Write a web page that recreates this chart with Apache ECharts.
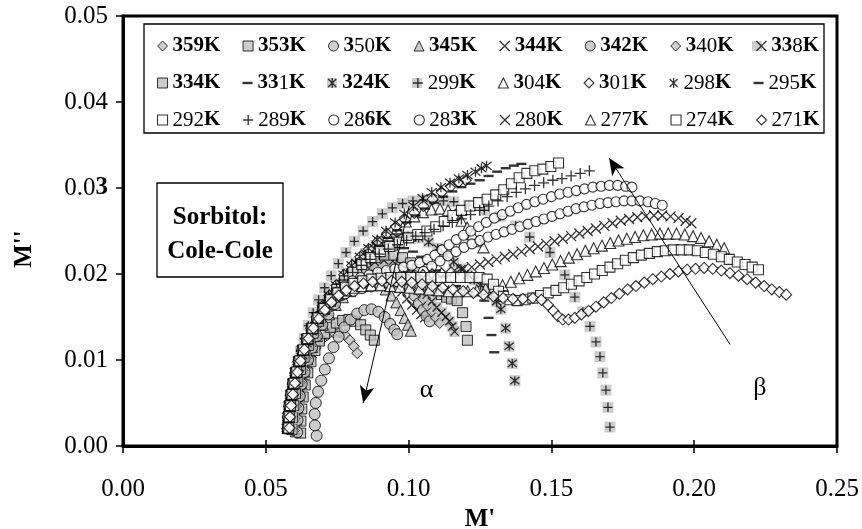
<!DOCTYPE html>
<html><head><meta charset="utf-8">
<script src="https://cdn.jsdelivr.net/npm/echarts@6/dist/echarts.min.js"></script>
<style>html,body{margin:0;padding:0;background:#fff}#c{width:862px;height:529px}</style>
</head><body><div id="c"></div>
<script>
const FONT = '"Liberation Serif","Times New Roman",serif';
const xTickLabels = ['0.00','0.05','0.10','0.15','0.20','0.25'];
const yTickLabels = ['0.00','0.01','0.02','0.0{b|3}','0.04','0.05'];
const temps = ['359K','353K','350K','345K','344K','342K','340K','338K','334K','331K','324K','299K','304K','301K','298K','295K','292K','289K','286K','283K','280K','277K','274K','271K'];
const legendText = {
 '359K':'{b|359K}','353K':'{b|353K}','350K':'{b|3}{r|50}{b|K}','345K':'{b|345K}','344K':'{b|344K}','342K':'{b|342K}','340K':'{b|3}{r|40}{b|K}','338K':'{b|33}{r|8}{b|K}',
 '334K':'{b|334K}','331K':'{b|33}{r|1}{b|K}','324K':'{b|324K}','299K':'{r|299}{b|K}','304K':'{b|3}{r|04}{b|K}','301K':'{b|3}{r|01}{b|K}','298K':'{r|298}{b|K}','295K':'{r|295}{b|K}',
 '292K':'{r|292}{b|K}','289K':'{r|289}{b|K}','286K':'{r|28}{b|6K}','283K':'{r|28}{b|3K}','280K':'{r|280}{b|K}','277K':'{r|277}{b|K}','274K':'{r|274}{b|K}','271K':'{r|271}{b|K}'
};

const s359 = [[0.0610,0.0017],[0.0612,0.0030],[0.0616,0.0045],[0.0623,0.0060],[0.0632,0.0075],[0.0644,0.0090],[0.0658,0.0103],[0.0675,0.0114],[0.0694,0.0123],[0.0715,0.0129],[0.0737,0.0132],[0.0758,0.0132],[0.0777,0.0129],[0.0794,0.0123],[0.0808,0.0116],[0.0820,0.0108]];
const s353 = [[0.0622,0.0015],[0.0623,0.0029],[0.0626,0.0043],[0.0631,0.0057],[0.0638,0.0071],[0.0647,0.0085],[0.0658,0.0098],[0.0672,0.0111],[0.0688,0.0122],[0.0706,0.0131],[0.0726,0.0138],[0.0747,0.0143],[0.0769,0.0146],[0.0791,0.0147],[0.0812,0.0145],[0.0832,0.0141],[0.0850,0.0135],[0.0866,0.0129],[0.0880,0.0123]];
const s350 = [[0.0678,0.0012],[0.0672,0.0024],[0.0671,0.0037],[0.0675,0.0050],[0.0683,0.0063],[0.0694,0.0076],[0.0707,0.0089],[0.0721,0.0102],[0.0737,0.0115],[0.0755,0.0127],[0.0775,0.0138],[0.0797,0.0147],[0.0820,0.0154],[0.0845,0.0158],[0.0870,0.0159],[0.0894,0.0156],[0.0916,0.0150],[0.0935,0.0142],[0.0950,0.0135],[0.0960,0.0130]];
const s345 = [[0.0605,0.0017],[0.0607,0.0031],[0.0611,0.0045],[0.0616,0.0059],[0.0624,0.0073],[0.0634,0.0087],[0.0646,0.0101],[0.0662,0.0115],[0.0680,0.0128],[0.0700,0.0141],[0.0722,0.0153],[0.0745,0.0164],[0.0770,0.0173],[0.0795,0.0180],[0.0820,0.0185],[0.0846,0.0188],[0.0872,0.0189],[0.0897,0.0187],[0.0920,0.0182],[0.0940,0.0175],[0.0957,0.0167],[0.0972,0.0158],[0.0986,0.0149],[0.0998,0.0141],[0.1008,0.0134]];
const s344 = [[0.0602,0.0018],[0.0604,0.0032],[0.0608,0.0046],[0.0614,0.0060],[0.0622,0.0074],[0.0632,0.0088],[0.0645,0.0102],[0.0660,0.0116],[0.0678,0.0130],[0.0698,0.0143],[0.0720,0.0155],[0.0744,0.0166],[0.0770,0.0176],[0.0797,0.0184],[0.0825,0.0191],[0.0853,0.0195],[0.0881,0.0197],[0.0908,0.0196],[0.0933,0.0192],[0.0956,0.0186],[0.0976,0.0179],[0.0994,0.0171],[0.1011,0.0164],[0.1028,0.0158],[0.1043,0.0153],[0.1056,0.0149]];
const s342 = [[0.0610,0.0016],[0.0611,0.0030],[0.0614,0.0044],[0.0619,0.0058],[0.0626,0.0072],[0.0636,0.0086],[0.0648,0.0100],[0.0662,0.0114],[0.0679,0.0128],[0.0698,0.0141],[0.0719,0.0153],[0.0742,0.0165],[0.0767,0.0176],[0.0794,0.0185],[0.0822,0.0193],[0.0851,0.0199],[0.0880,0.0203],[0.0909,0.0205],[0.0937,0.0204],[0.0963,0.0200],[0.0986,0.0193],[0.1005,0.0184],[0.1021,0.0175],[0.1036,0.0166],[0.1050,0.0158],[0.1063,0.0151],[0.1074,0.0145]];
const s340 = [[0.0598,0.0018],[0.0600,0.0032],[0.0604,0.0046],[0.0610,0.0060],[0.0618,0.0074],[0.0628,0.0088],[0.0640,0.0102],[0.0655,0.0116],[0.0672,0.0130],[0.0691,0.0144],[0.0713,0.0157],[0.0737,0.0169],[0.0763,0.0180],[0.0791,0.0190],[0.0820,0.0198],[0.0850,0.0204],[0.0880,0.0208],[0.0910,0.0210],[0.0940,0.0209],[0.0968,0.0205],[0.0993,0.0198],[0.1015,0.0189],[0.1034,0.0180],[0.1051,0.0171],[0.1067,0.0163],[0.1082,0.0156],[0.1096,0.0149],[0.1109,0.0143]];
const s338 = [[0.0595,0.0019],[0.0597,0.0033],[0.0601,0.0047],[0.0607,0.0061],[0.0615,0.0075],[0.0625,0.0089],[0.0637,0.0103],[0.0652,0.0117],[0.0669,0.0131],[0.0688,0.0145],[0.0710,0.0158],[0.0734,0.0171],[0.0760,0.0183],[0.0788,0.0194],[0.0818,0.0203],[0.0850,0.0210],[0.0882,0.0214],[0.0914,0.0216],[0.0945,0.0215],[0.0974,0.0211],[0.1000,0.0204],[0.1023,0.0195],[0.1044,0.0185],[0.1063,0.0176],[0.1081,0.0168],[0.1098,0.0161],[0.1115,0.0155],[0.1130,0.0150],[0.1143,0.0145],[0.1153,0.0139],[0.1161,0.0133]];
const s334 = [[0.0592,0.0019],[0.0594,0.0033],[0.0598,0.0047],[0.0604,0.0061],[0.0612,0.0075],[0.0622,0.0089],[0.0634,0.0103],[0.0649,0.0117],[0.0666,0.0131],[0.0685,0.0145],[0.0707,0.0159],[0.0731,0.0172],[0.0758,0.0184],[0.0787,0.0196],[0.0818,0.0206],[0.0850,0.0214],[0.0883,0.0219],[0.0916,0.0222],[0.0948,0.0222],[0.0979,0.0219],[0.1007,0.0213],[0.1032,0.0205],[0.1055,0.0196],[0.1076,0.0188],[0.1096,0.0181],[0.1115,0.0176],[0.1133,0.0173],[0.1150,0.0171],[0.1170,0.0169],[0.1189,0.0155],[0.1201,0.0139],[0.1206,0.0123]];
const s331 = [[0.0590,0.0020],[0.0592,0.0034],[0.0596,0.0048],[0.0602,0.0062],[0.0610,0.0076],[0.0620,0.0090],[0.0632,0.0104],[0.0647,0.0118],[0.0664,0.0132],[0.0683,0.0146],[0.0705,0.0160],[0.0729,0.0173],[0.0756,0.0186],[0.0785,0.0198],[0.0816,0.0209],[0.0849,0.0218],[0.0883,0.0225],[0.0917,0.0229],[0.0951,0.0231],[0.0984,0.0230],[0.1015,0.0226],[0.1044,0.0220],[0.1071,0.0212],[0.1096,0.0204],[0.1120,0.0197],[0.1143,0.0191],[0.1166,0.0186],[0.1189,0.0182],[0.1212,0.0179],[0.1234,0.0176],[0.1265,0.0169],[0.1280,0.0149],[0.1290,0.0129],[0.1300,0.0109]];
const s324 = [[0.0588,0.0021],[0.0590,0.0035],[0.0594,0.0049],[0.0600,0.0063],[0.0608,0.0077],[0.0618,0.0091],[0.0630,0.0105],[0.0645,0.0119],[0.0662,0.0133],[0.0681,0.0147],[0.0703,0.0161],[0.0727,0.0175],[0.0754,0.0188],[0.0783,0.0201],[0.0815,0.0213],[0.0849,0.0224],[0.0885,0.0233],[0.0922,0.0239],[0.0960,0.0243],[0.0998,0.0244],[0.1035,0.0242],[0.1070,0.0237],[0.1102,0.0230],[0.1131,0.0222],[0.1158,0.0214],[0.1183,0.0206],[0.1207,0.0199],[0.1230,0.0193],[0.1252,0.0187],[0.1272,0.0182],[0.1291,0.0176],[0.1308,0.0168],[0.1323,0.0159],[0.1340,0.0137],[0.1352,0.0116],[0.1363,0.0096],[0.1372,0.0076]];
const s299 = [[0.0585,0.0021],[0.0586,0.0035],[0.0589,0.0050],[0.0594,0.0065],[0.0601,0.0080],[0.0610,0.0095],[0.0621,0.0110],[0.0634,0.0125],[0.0649,0.0140],[0.0666,0.0155],[0.0685,0.0170],[0.0706,0.0184],[0.0729,0.0198],[0.0754,0.0212],[0.0781,0.0225],[0.0810,0.0238],[0.0841,0.0250],[0.0874,0.0261],[0.0908,0.0270],[0.0943,0.0277],[0.0979,0.0282],[0.1015,0.0285],[0.1051,0.0286],[0.1087,0.0286],[0.1122,0.0285],[0.1158,0.0284],[0.1210,0.0280],[0.1265,0.0274],[0.1320,0.0267],[0.1375,0.0256],[0.1424,0.0243],[0.1495,0.0225],[0.1547,0.0199],[0.1582,0.0173],[0.1610,0.0156],[0.1635,0.0139],[0.1656,0.0121],[0.1670,0.0104],[0.1680,0.0085],[0.1691,0.0065],[0.1698,0.0045],[0.1705,0.0022]];
const s304 = [[0.0577,0.0021],[0.0579,0.0034],[0.0583,0.0047],[0.0589,0.0060],[0.0596,0.0073],[0.0605,0.0086],[0.0616,0.0099],[0.0629,0.0112],[0.0644,0.0125],[0.0661,0.0138],[0.0680,0.0151],[0.0701,0.0163],[0.0724,0.0175],[0.0749,0.0186],[0.0776,0.0197],[0.0805,0.0207],[0.0835,0.0217],[0.0866,0.0227],[0.0897,0.0236],[0.0928,0.0245],[0.0959,0.0253],[0.0990,0.0261],[0.1020,0.0267],[0.1050,0.0272],[0.1080,0.0275],[0.1110,0.0276],[0.1138,0.0274],[0.1163,0.0269],[0.1185,0.0262],[0.1205,0.0254],[0.1224,0.0246],[0.1243,0.0238],[0.1262,0.0231]];
const s301 = [[0.0575,0.0020],[0.0577,0.0033],[0.0581,0.0046],[0.0587,0.0059],[0.0594,0.0072],[0.0603,0.0085],[0.0614,0.0098],[0.0627,0.0111],[0.0642,0.0124],[0.0659,0.0137],[0.0678,0.0150],[0.0699,0.0163],[0.0722,0.0175],[0.0747,0.0187],[0.0774,0.0199],[0.0802,0.0210],[0.0831,0.0220],[0.0861,0.0229],[0.0892,0.0238],[0.0924,0.0247],[0.0956,0.0255],[0.0988,0.0263],[0.1020,0.0271],[0.1052,0.0279],[0.1084,0.0287],[0.1116,0.0295],[0.1148,0.0302],[0.1175,0.0307],[0.1200,0.0309]];
const s298 = [[0.0573,0.0021],[0.0575,0.0034],[0.0579,0.0047],[0.0585,0.0060],[0.0592,0.0073],[0.0601,0.0086],[0.0612,0.0099],[0.0625,0.0112],[0.0640,0.0125],[0.0657,0.0138],[0.0676,0.0151],[0.0697,0.0163],[0.0720,0.0175],[0.0745,0.0187],[0.0772,0.0199],[0.0800,0.0210],[0.0829,0.0220],[0.0859,0.0230],[0.0890,0.0240],[0.0921,0.0250],[0.0953,0.0260],[0.0985,0.0270],[0.1017,0.0279],[0.1049,0.0288],[0.1081,0.0295],[0.1113,0.0301],[0.1145,0.0306],[0.1176,0.0311],[0.1206,0.0315],[0.1234,0.0319],[0.1255,0.0323],[0.1273,0.0326]];
const s295 = [[0.0574,0.0021],[0.0576,0.0034],[0.0580,0.0047],[0.0586,0.0060],[0.0593,0.0073],[0.0602,0.0086],[0.0613,0.0099],[0.0626,0.0112],[0.0641,0.0125],[0.0658,0.0137],[0.0677,0.0149],[0.0698,0.0161],[0.0721,0.0173],[0.0746,0.0184],[0.0773,0.0195],[0.0802,0.0205],[0.0833,0.0215],[0.0865,0.0224],[0.0897,0.0233],[0.0929,0.0242],[0.0961,0.0251],[0.0993,0.0260],[0.1025,0.0268],[0.1057,0.0276],[0.1089,0.0283],[0.1121,0.0290],[0.1153,0.0296],[0.1185,0.0301],[0.1217,0.0305],[0.1249,0.0309],[0.1280,0.0314],[0.1310,0.0319],[0.1340,0.0323],[0.1368,0.0326],[0.1395,0.0328]];
const s292 = [[0.0577,0.0020],[0.0579,0.0033],[0.0583,0.0046],[0.0589,0.0059],[0.0596,0.0072],[0.0605,0.0085],[0.0616,0.0098],[0.0629,0.0111],[0.0644,0.0124],[0.0661,0.0136],[0.0680,0.0148],[0.0701,0.0160],[0.0724,0.0171],[0.0749,0.0182],[0.0776,0.0192],[0.0805,0.0202],[0.0836,0.0211],[0.0868,0.0219],[0.0901,0.0226],[0.0934,0.0232],[0.0967,0.0237],[0.1000,0.0242],[0.1032,0.0246],[0.1064,0.0250],[0.1095,0.0255],[0.1125,0.0261],[0.1155,0.0268],[0.1185,0.0274],[0.1215,0.0279],[0.1245,0.0283],[0.1275,0.0287],[0.1305,0.0292],[0.1333,0.0298],[0.1360,0.0305],[0.1387,0.0312],[0.1414,0.0317],[0.1442,0.0320],[0.1470,0.0322],[0.1498,0.0325],[0.1525,0.0329]];
const s289 = [[0.0576,0.0021],[0.0578,0.0034],[0.0582,0.0047],[0.0588,0.0060],[0.0595,0.0073],[0.0604,0.0086],[0.0615,0.0099],[0.0628,0.0112],[0.0643,0.0125],[0.0660,0.0137],[0.0679,0.0149],[0.0700,0.0161],[0.0723,0.0172],[0.0748,0.0183],[0.0775,0.0193],[0.0804,0.0202],[0.0834,0.0210],[0.0865,0.0217],[0.0897,0.0223],[0.0929,0.0229],[0.0961,0.0234],[0.0993,0.0239],[0.1025,0.0244],[0.1057,0.0248],[0.1089,0.0252],[0.1121,0.0256],[0.1153,0.0260],[0.1185,0.0264],[0.1217,0.0269],[0.1249,0.0274],[0.1281,0.0279],[0.1313,0.0285],[0.1345,0.0290],[0.1377,0.0295],[0.1409,0.0299],[0.1441,0.0303],[0.1473,0.0306],[0.1505,0.0309],[0.1537,0.0311],[0.1569,0.0314],[0.1601,0.0317],[0.1633,0.0320]];
const s286 = [[0.0576,0.0020],[0.0578,0.0033],[0.0582,0.0046],[0.0588,0.0059],[0.0595,0.0072],[0.0604,0.0085],[0.0615,0.0098],[0.0628,0.0111],[0.0643,0.0124],[0.0660,0.0136],[0.0679,0.0148],[0.0700,0.0159],[0.0723,0.0170],[0.0748,0.0179],[0.0775,0.0186],[0.0803,0.0192],[0.0832,0.0196],[0.0862,0.0199],[0.0892,0.0202],[0.0922,0.0204],[0.0952,0.0206],[0.0982,0.0208],[0.1011,0.0210],[0.1039,0.0213],[0.1066,0.0217],[0.1092,0.0222],[0.1117,0.0228],[0.1142,0.0234],[0.1167,0.0240],[0.1192,0.0245],[0.1218,0.0250],[0.1245,0.0255],[0.1272,0.0260],[0.1300,0.0265],[0.1328,0.0269],[0.1356,0.0273],[0.1384,0.0277],[0.1413,0.0281],[0.1442,0.0284],[0.1471,0.0287],[0.1500,0.0290],[0.1529,0.0293],[0.1558,0.0295],[0.1587,0.0297],[0.1616,0.0299],[0.1645,0.0301],[0.1674,0.0302],[0.1703,0.0303],[0.1732,0.0303],[0.1760,0.0302],[0.1782,0.0301]];
const s283 = [[0.0575,0.0021],[0.0577,0.0034],[0.0581,0.0047],[0.0587,0.0060],[0.0594,0.0073],[0.0603,0.0086],[0.0614,0.0099],[0.0627,0.0112],[0.0642,0.0125],[0.0659,0.0137],[0.0678,0.0149],[0.0700,0.0159],[0.0724,0.0167],[0.0750,0.0173],[0.0778,0.0177],[0.0807,0.0180],[0.0837,0.0183],[0.0868,0.0185],[0.0899,0.0187],[0.0930,0.0189],[0.0961,0.0191],[0.0992,0.0194],[0.1022,0.0198],[0.1052,0.0203],[0.1081,0.0209],[0.1110,0.0215],[0.1138,0.0221],[0.1166,0.0226],[0.1194,0.0231],[0.1222,0.0235],[0.1250,0.0239],[0.1278,0.0243],[0.1306,0.0246],[0.1334,0.0249],[0.1362,0.0252],[0.1390,0.0255],[0.1418,0.0258],[0.1446,0.0261],[0.1474,0.0264],[0.1502,0.0267],[0.1530,0.0270],[0.1558,0.0273],[0.1586,0.0276],[0.1614,0.0278],[0.1642,0.0280],[0.1670,0.0282],[0.1698,0.0283],[0.1726,0.0284],[0.1754,0.0285],[0.1782,0.0285],[0.1810,0.0285],[0.1838,0.0284],[0.1864,0.0282],[0.1888,0.0280]];
const s280 = [[0.0576,0.0021],[0.0578,0.0034],[0.0582,0.0047],[0.0588,0.0060],[0.0595,0.0073],[0.0604,0.0086],[0.0615,0.0099],[0.0628,0.0112],[0.0643,0.0125],[0.0660,0.0137],[0.0679,0.0149],[0.0700,0.0160],[0.0723,0.0170],[0.0748,0.0178],[0.0775,0.0184],[0.0804,0.0188],[0.0835,0.0191],[0.0867,0.0193],[0.0900,0.0195],[0.0933,0.0196],[0.0966,0.0197],[0.0999,0.0198],[0.1032,0.0199],[0.1065,0.0200],[0.1098,0.0201],[0.1130,0.0202],[0.1161,0.0204],[0.1191,0.0206],[0.1221,0.0208],[0.1250,0.0211],[0.1279,0.0214],[0.1308,0.0217],[0.1337,0.0220],[0.1366,0.0223],[0.1395,0.0226],[0.1424,0.0229],[0.1453,0.0232],[0.1482,0.0235],[0.1511,0.0238],[0.1540,0.0241],[0.1569,0.0244],[0.1598,0.0247],[0.1627,0.0250],[0.1656,0.0253],[0.1685,0.0256],[0.1714,0.0259],[0.1743,0.0262],[0.1772,0.0264],[0.1801,0.0266],[0.1830,0.0267],[0.1859,0.0268],[0.1888,0.0268],[0.1917,0.0267],[0.1945,0.0265],[0.1970,0.0262],[0.1990,0.0259]];
const s277 = [[0.0578,0.0021],[0.0580,0.0034],[0.0584,0.0047],[0.0590,0.0060],[0.0597,0.0073],[0.0606,0.0086],[0.0617,0.0099],[0.0630,0.0112],[0.0645,0.0125],[0.0662,0.0137],[0.0681,0.0149],[0.0702,0.0160],[0.0725,0.0169],[0.0750,0.0176],[0.0777,0.0181],[0.0806,0.0184],[0.0837,0.0186],[0.0869,0.0187],[0.0902,0.0187],[0.0936,0.0186],[0.0970,0.0185],[0.1004,0.0184],[0.1038,0.0183],[0.1072,0.0182],[0.1106,0.0181],[0.1140,0.0180],[0.1174,0.0180],[0.1207,0.0180],[0.1239,0.0181],[0.1270,0.0183],[0.1300,0.0185],[0.1329,0.0187],[0.1358,0.0191],[0.1387,0.0195],[0.1416,0.0199],[0.1445,0.0203],[0.1474,0.0207],[0.1503,0.0211],[0.1532,0.0215],[0.1561,0.0219],[0.1590,0.0223],[0.1619,0.0227],[0.1648,0.0230],[0.1677,0.0233],[0.1706,0.0236],[0.1735,0.0239],[0.1764,0.0241],[0.1793,0.0243],[0.1822,0.0245],[0.1851,0.0246],[0.1880,0.0247],[0.1909,0.0247],[0.1938,0.0247],[0.1967,0.0246],[0.1996,0.0244],[0.2024,0.0242],[0.2052,0.0238],[0.2079,0.0234],[0.2105,0.0230]];
const s274 = [[0.0580,0.0021],[0.0582,0.0034],[0.0586,0.0047],[0.0592,0.0060],[0.0599,0.0073],[0.0608,0.0086],[0.0619,0.0099],[0.0632,0.0112],[0.0647,0.0125],[0.0664,0.0137],[0.0683,0.0149],[0.0704,0.0160],[0.0727,0.0170],[0.0752,0.0178],[0.0779,0.0184],[0.0808,0.0189],[0.0839,0.0192],[0.0871,0.0194],[0.0904,0.0195],[0.0938,0.0196],[0.0973,0.0196],[0.1008,0.0196],[0.1043,0.0196],[0.1078,0.0196],[0.1113,0.0196],[0.1148,0.0196],[0.1182,0.0196],[0.1215,0.0196],[0.1247,0.0196],[0.1275,0.0194],[0.1297,0.0188],[0.1315,0.0180],[0.1332,0.0174],[0.1355,0.0170],[0.1380,0.0169],[0.1408,0.0170],[0.1435,0.0172],[0.1462,0.0175],[0.1489,0.0178],[0.1516,0.0181],[0.1543,0.0184],[0.1570,0.0188],[0.1597,0.0192],[0.1624,0.0196],[0.1651,0.0200],[0.1678,0.0204],[0.1705,0.0208],[0.1732,0.0212],[0.1759,0.0216],[0.1787,0.0219],[0.1815,0.0222],[0.1843,0.0224],[0.1871,0.0226],[0.1899,0.0227],[0.1927,0.0228],[0.1955,0.0228],[0.1983,0.0228],[0.2011,0.0227],[0.2039,0.0225],[0.2067,0.0223],[0.2095,0.0220],[0.2123,0.0217],[0.2151,0.0214],[0.2178,0.0211],[0.2203,0.0208],[0.2225,0.0205]];
const s271 = [[0.0583,0.0021],[0.0585,0.0034],[0.0589,0.0047],[0.0595,0.0060],[0.0602,0.0073],[0.0611,0.0086],[0.0622,0.0099],[0.0635,0.0112],[0.0650,0.0125],[0.0667,0.0137],[0.0686,0.0148],[0.0707,0.0158],[0.0730,0.0167],[0.0755,0.0175],[0.0782,0.0181],[0.0811,0.0186],[0.0842,0.0189],[0.0874,0.0191],[0.0907,0.0192],[0.0941,0.0192],[0.0976,0.0191],[0.1011,0.0190],[0.1047,0.0188],[0.1083,0.0186],[0.1119,0.0184],[0.1155,0.0182],[0.1191,0.0180],[0.1227,0.0178],[0.1262,0.0176],[0.1297,0.0174],[0.1331,0.0172],[0.1365,0.0171],[0.1400,0.0171],[0.1435,0.0172],[0.1465,0.0170],[0.1488,0.0164],[0.1507,0.0157],[0.1523,0.0151],[0.1540,0.0147],[0.1560,0.0147],[0.1582,0.0149],[0.1605,0.0153],[0.1630,0.0157],[0.1656,0.0162],[0.1683,0.0167],[0.1710,0.0172],[0.1738,0.0177],[0.1767,0.0182],[0.1796,0.0186],[0.1825,0.0190],[0.1855,0.0194],[0.1885,0.0197],[0.1915,0.0200],[0.1945,0.0203],[0.1975,0.0205],[0.2005,0.0206],[0.2035,0.0207],[0.2065,0.0206],[0.2095,0.0204],[0.2125,0.0201],[0.2155,0.0198],[0.2185,0.0194],[0.2215,0.0190],[0.2245,0.0186],[0.2272,0.0182],[0.2298,0.0179],[0.2322,0.0176]];

// annotation anchors (data coordinates)
const alphaArrow = [[0.1002,0.0279],[0.0841,0.0050]];
const betaArrow = [[0.2126,0.0118],[0.1702,0.0335]];
const alphaAt = [0.1063,0.0065];
const betaAt = [0.2230,0.0067];

const GRAY = '#c0c0c0';
const P_CROSS = 'path://M0,0L10,10M10,0L0,10';
const P_PLUS = 'path://M5,0L5,10M0,5L10,5';
const P_STAR = 'path://M1,1L9,9M9,1L1,9M5,0L5,10';
const P_DASH = 'path://M0,0L0,0M0,10L0,10M0,3.8L10,3.8L10,6.2L0,6.2Z';
const STY = {
  g: {color: GRAY, borderColor: '#000', borderWidth: 1},
  w: {color: '#fff', borderColor: '#000', borderWidth: 1.1},
  l: {color: '#000', borderColor: '#000', borderWidth: 1.3},
  d: {color: '#000', borderColor: '#000', borderWidth: 0}
};
// name, data, symbol, size, style, gray background box
const defs = [
  ['359K', s359, 'diamond', 11, 'g', false],
  ['353K', s353, 'rect', 10, 'g', false],
  ['350K', s350, 'circle', 11, 'g', false],
  ['345K', s345, 'triangle', 11, 'g', false],
  ['344K', s344, P_CROSS, 9, 'l', false],
  ['342K', s342, 'circle', 11, 'g', false],
  ['340K', s340, 'diamond', 11, 'g', false],
  ['338K', s338, P_CROSS, 8, 'l', true],
  ['334K', s334, 'rect', 10, 'g', false],
  ['331K', s331, P_DASH, 10, 'd', false],
  ['324K', s324, P_STAR, 9, 'l', true],
  ['299K', s299, P_PLUS, 9, 'l', true],
  ['304K', s304, 'triangle', 11, 'w', false],
  ['301K', s301, 'diamond', 11, 'w', false],
  ['298K', s298, P_STAR, 10, 'l', false],
  ['295K', s295, P_DASH, 10, 'd', false],
  ['292K', s292, 'rect', 10, 'w', false],
  ['289K', s289, P_PLUS, 11, 'l', false],
  ['286K', s286, 'circle', 10, 'w', false],
  ['283K', s283, 'circle', 10, 'w', false],
  ['280K', s280, P_CROSS, 10, 'l', false],
  ['277K', s277, 'triangle', 11, 'w', false],
  ['274K', s274, 'rect', 10, 'w', false],
  ['271K', s271, 'diamond', 11, 'w', false]
];

const series = [];
defs.forEach(function (d, i) {
  if (d[5]) {
    series.push({type: 'scatter', name: d[0] + ' bg', data: d[1], symbol: 'rect', symbolSize: 11,
      itemStyle: {color: GRAY, borderWidth: 0}, silent: true, animation: false, emphasis: {disabled: true}});
  }
  const s = {type: 'scatter', name: d[0], data: d[1], symbol: d[2], symbolSize: d[3],
    itemStyle: STY[d[4]], animation: false, emphasis: {disabled: true}};
  if (i === defs.length - 1) {
    s.markLine = {silent: true, animation: false, symbol: ['none', 'arrow'], symbolSize: [11, 17],
      lineStyle: {color: '#000', width: 1, type: 'solid'}, label: {show: false},
      emphasis: {disabled: true},
      data: [[{coord: alphaArrow[0]}, {coord: alphaArrow[1]}], [{coord: betaArrow[0]}, {coord: betaArrow[1]}]]};
    s.markPoint = {silent: true, animation: false, symbol: 'circle', symbolSize: 1,
      itemStyle: {color: 'rgba(0,0,0,0)'},
      label: {show: true, position: 'inside', color: '#000', fontFamily: FONT, fontSize: 26,
        formatter: function (p) { return p.name; }},
      data: [{name: 'α', coord: alphaAt}, {name: 'β', coord: betaAt}]};
  }
  series.push(s);
});

const rich = {
  b: {fontFamily: FONT, fontSize: 21, fontWeight: 'bold', color: '#000'},
  r: {fontFamily: FONT, fontSize: 21, fontWeight: 'normal', color: '#000'}
};
const richHidden = {
  b: {fontFamily: FONT, fontSize: 21, fontWeight: 'bold', color: 'rgba(0,0,0,0)'},
  r: {fontFamily: FONT, fontSize: 21, fontWeight: 'normal', color: 'rgba(0,0,0,0)'}
};
const legendBase = {
  left: 144, top: 24, width: 670, orient: 'horizontal',
  padding: [11, 2, 2, 13], itemWidth: 10, itemHeight: 10, itemGap: 15,
  selectedMode: false,
  formatter: function (n) { return legendText[n]; }
};
const legendTop = Object.assign({}, legendBase, {
  z: 6,
  textStyle: {fontFamily: FONT, fontSize: 21, lineHeight: 22, width: 55, color: '#000', rich: rich},
  data: defs.map(function (d) {
    return {name: d[0], icon: d[2], itemStyle: Object.assign({}, STY[d[4]])};
  })
});
const legendUnder = Object.assign({}, legendBase, {
  z: 5, borderColor: '#000', borderWidth: 1.3, backgroundColor: '#fff',
  textStyle: {fontFamily: FONT, fontSize: 21, lineHeight: 22, width: 55, color: 'rgba(0,0,0,0)', rich: richHidden},
  data: defs.map(function (d) {
    return d[5]
      ? {name: d[0], icon: 'rect', itemStyle: {color: GRAY, borderWidth: 0}}
      : {name: d[0], icon: 'rect', itemStyle: {color: 'rgba(0,0,0,0)', borderWidth: 0}};
  })
});

const axisLabelFont = {fontFamily: FONT, fontSize: 25, color: '#000'};
const option = {
  backgroundColor: '#fff',
  animation: false,
  grid: {left: 123, right: 25, top: 16, bottom: 83, show: true, borderColor: '#000', borderWidth: 3,
    backgroundColor: 'rgba(0,0,0,0)', containLabel: false, outerBoundsMode: 'none'},
  legend: [legendUnder, legendTop],
  xAxis: [{
    type: 'value', min: 0, max: 0.25, interval: 0.05, position: 'bottom',
    name: "M'", nameLocation: 'middle', nameGap: 60,
    nameTextStyle: {fontFamily: FONT, fontSize: 25, fontWeight: 'bold', color: '#000'},
    axisLine: {show: true, onZero: false, lineStyle: {color: '#000', width: 3}},
    axisTick: {show: true, inside: false, length: 7, lineStyle: {color: '#000', width: 1.5}},
    axisLabel: Object.assign({margin: 31, formatter: function (v) { return xTickLabels[Math.round(v / 0.05)]; }}, axisLabelFont),
    splitLine: {show: false}
  }, {
    type: 'value', min: 0, max: 0.25, interval: 0.05, position: 'bottom',
    axisLine: {show: false},
    axisTick: {show: true, inside: true, length: 6, lineStyle: {color: '#000', width: 1.5}},
    axisLabel: {show: false}, splitLine: {show: false}
  }],
  yAxis: {
    type: 'value', min: 0, max: 0.05, interval: 0.01,
    name: "M''", nameLocation: 'middle', nameGap: 86, nameRotate: 90,
    nameTextStyle: {fontFamily: FONT, fontSize: 25, fontWeight: 'bold', color: '#000', padding: [0, 36, 0, 0]},
    axisLine: {show: true, onZero: false, lineStyle: {color: '#000', width: 3}},
    axisTick: {show: true, inside: false, length: 7, lineStyle: {color: '#000', width: 1.5}},
    axisLabel: Object.assign({margin: 15, formatter: function (v) { return yTickLabels[Math.round(v / 0.01)]; },
      rich: {b: {fontFamily: FONT, fontSize: 25, fontWeight: 'bold', color: '#000'}}}, axisLabelFont),
    splitLine: {show: false}
  },
  graphic: [
    {type: 'rect', z: 10, shape: {x: 157, y: 183, width: 126, height: 94},
      style: {fill: '#fff', stroke: '#000', lineWidth: 1.3}},
    {type: 'text', z: 11, x: 220, y: 235,
      style: {text: 'Sorbitol:\nCole-Cole', fill: '#000', fontFamily: FONT, fontSize: 25, fontWeight: 'bold',
        lineHeight: 34, align: 'center', verticalAlign: 'middle', textAlign: 'center', textVerticalAlign: 'middle'}}
  ],
  series: series
};
const chart = echarts.init(document.getElementById('c'), null, {renderer: 'canvas'});
chart.setOption(option);
</script>
</body></html>
